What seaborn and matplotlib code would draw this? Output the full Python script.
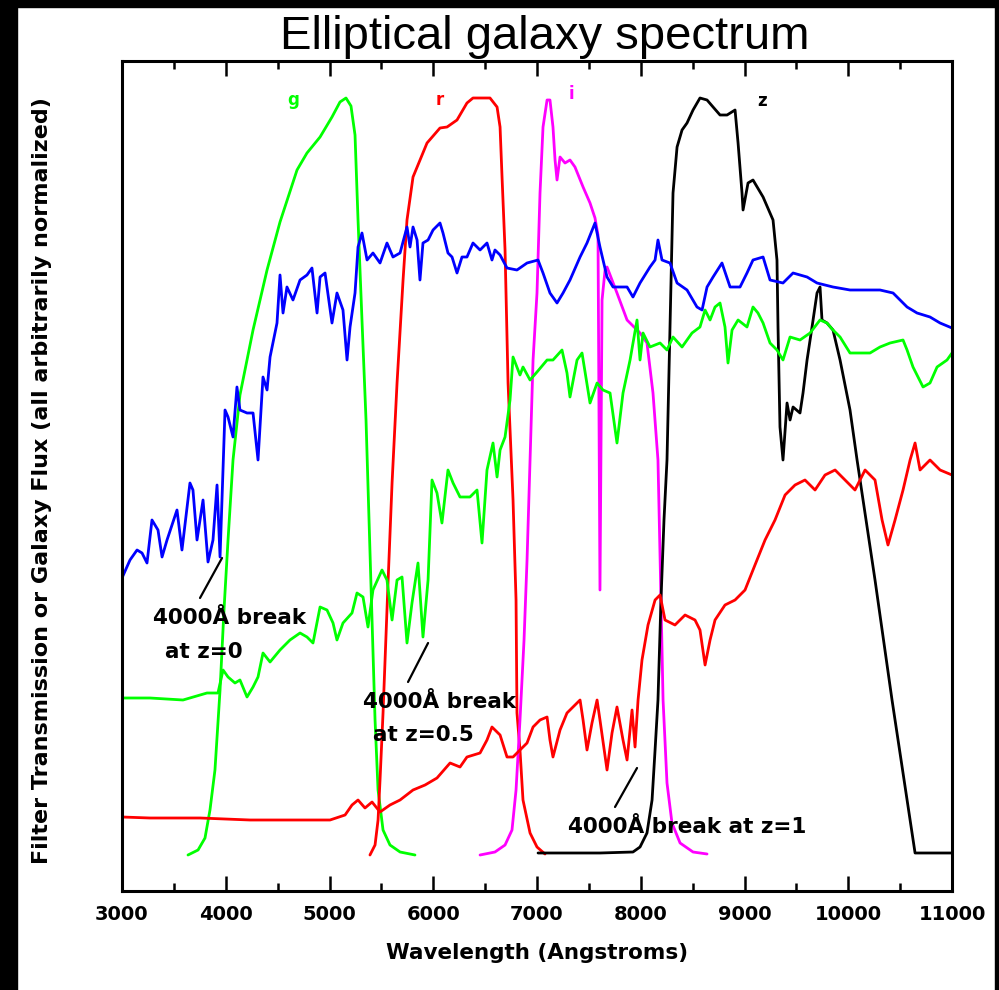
import matplotlib
matplotlib.use("Agg")
import matplotlib.pyplot as plt
import seaborn as sns
import pandas as pd
from matplotlib.ticker import MultipleLocator
from matplotlib.patches import Rectangle

# ---- SDSS filter transmission curves (wavelength in Angstroms, arbitrary scale) ----
G_FILTER_WAVE = [3636, 3733, 3800, 3848, 3896, 3945, 3983, 4022, 4070, 4137, 4263, 4398, 4523, 4687, 4783,
                 4909, 5024, 5101, 5159, 5207, 5246, 5275, 5313, 5352, 5381, 5410, 5439, 5468, 5516, 5583,
                 5680, 5824]
G_FILTER_TRANS = [0.36, 0.41, 0.53, 0.81, 1.21, 2.01, 2.81, 3.51, 4.31, 4.96, 5.61, 6.21, 6.69, 7.21, 7.38,
                  7.54, 7.74, 7.89, 7.93, 7.85, 7.56, 6.71, 5.71, 4.71, 3.71, 2.71, 1.71, 1.01, 0.61, 0.46,
                  0.39, 0.36]

R_FILTER_WAVE = [5390, 5439, 5468, 5487, 5516, 5564, 5603, 5651, 5709, 5747, 5805, 5940, 6065, 6133, 6229,
                 6325, 6383, 6547, 6615, 6644, 6663, 6692, 6721, 6769, 6798, 6807, 6836, 6865, 6933, 7000,
                 7077]
R_FILTER_TRANS = [0.36, 0.46, 0.71, 1.11, 1.78, 3.08, 4.08, 5.08, 6.11, 6.71, 7.14, 7.48, 7.63, 7.64, 7.71,
                  7.88, 7.93, 7.93, 7.84, 7.64, 7.14, 6.41, 5.08, 3.91, 2.91, 1.78, 1.41, 0.91, 0.58, 0.44,
                  0.37]

I_FILTER_WAVE = [6451, 6595, 6692, 6759, 6798, 6836, 6875, 6904, 6933, 6962, 7000, 7029, 7058, 7097, 7125,
                 7154, 7174, 7193, 7222, 7270, 7318, 7366, 7444, 7511, 7559, 7588, 7607, 7627, 7656, 7675,
                 7771, 7868, 7993, 8060, 8118, 8166, 8195, 8215, 8253, 8301, 8379, 8504, 8639]
I_FILTER_TRANS = [0.36, 0.39, 0.46, 0.61, 1.01, 1.71, 2.51, 3.31, 4.31, 5.31, 5.98, 6.98, 7.64, 7.91, 7.91,
                  7.64, 7.31, 7.11, 7.34, 7.28, 7.31, 7.24, 7.04, 6.88, 6.73, 6.56, 3.01, 5.91, 6.21, 6.24,
                  5.98, 5.71, 5.58, 5.48, 4.98, 4.31, 2.91, 1.91, 1.08, 0.68, 0.48, 0.39, 0.37]

Z_FILTER_WAVE = [7010, 7607, 7925, 7993, 8060, 8109, 8138, 8166, 8195, 8224, 8253, 8282, 8311, 8350, 8398,
                 8446, 8504, 8571, 8639, 8697, 8764, 8832, 8909, 8938, 8976, 8986, 9034, 9082, 9179, 9275,
                 9313, 9323, 9342, 9371, 9410, 9439, 9468, 9535, 9564, 9603, 9651, 9699, 9728, 9747, 9795,
                 9853, 9921, 10017, 10085, 10258, 10422, 10644, 11000]
Z_FILTER_TRANS = [0.38, 0.38, 0.39, 0.44, 0.58, 0.91, 1.41, 1.91, 2.91, 3.71, 4.31, 5.64, 6.98, 7.44, 7.61,
                  7.68, 7.81, 7.93, 7.91, 7.84, 7.76, 7.76, 7.81, 7.48, 6.98, 6.81, 7.08, 7.11, 6.94, 6.71,
                  6.31, 5.64, 4.64, 4.31, 4.88, 4.71, 4.84, 4.78, 4.98, 5.31, 5.64, 5.98, 6.04, 5.71, 5.68,
                  5.61, 5.31, 4.81, 4.31, 3.11, 1.91, 0.38, 0.38]

# ---- Elliptical galaxy spectrum at z = 0 ----
Z0_WAVE = [3000, 3077, 3145, 3193, 3241, 3289, 3347, 3386, 3434, 3530,
           3578, 3655, 3684, 3723, 3781, 3829, 3877, 3916, 3945, 3993,
           4022, 4070, 4108, 4137, 4205, 4263, 4311, 4359, 4398, 4427,
           4494, 4523, 4552, 4590, 4648, 4716, 4783, 4831, 4880, 4909,
           4957, 5024, 5072, 5130, 5169, 5198, 5246, 5275, 5313, 5362,
           5419, 5487, 5554, 5612, 5680, 5747, 5776, 5805, 5844, 5872,
           5901, 5950, 5998, 6065, 6094, 6142, 6181, 6229, 6277, 6325,
           6383, 6451, 6518, 6566, 6595, 6644, 6711, 6807, 6904, 7010,
           7058, 7125, 7193, 7251, 7318, 7415, 7482, 7559, 7607, 7675,
           7733, 7868, 7925, 7993, 8089, 8138, 8166, 8205, 8282, 8350,
           8446, 8542, 8591, 8639, 8697, 8783, 8861, 8957, 9024, 9082,
           9179, 9246, 9371, 9468, 9603, 9699, 9853, 10017, 10181, 10306,
           10432, 10567, 10663, 10788, 10885, 11000]
Z0_FLUX = [3.13, 3.31, 3.41, 3.38, 3.28, 3.71, 3.61, 3.34, 3.51, 3.81,
           3.41, 4.08, 4.01, 3.51, 3.91, 3.29, 3.51, 4.06, 3.34, 4.81,
           4.74, 4.54, 5.04, 4.81, 4.78, 4.78, 4.31, 5.14, 5.01, 5.34,
           5.68, 6.16, 5.78, 6.04, 5.91, 6.11, 6.16, 6.23, 5.78, 6.14,
           6.18, 5.68, 5.98, 5.81, 5.31, 5.64, 5.98, 6.44, 6.58, 6.31,
           6.38, 6.28, 6.48, 6.34, 6.38, 6.64, 6.44, 6.64, 6.51, 6.11,
           6.48, 6.51, 6.61, 6.68, 6.58, 6.38, 6.34, 6.18, 6.34, 6.34,
           6.48, 6.41, 6.48, 6.31, 6.41, 6.36, 6.23, 6.21, 6.28, 6.31,
           6.18, 5.98, 5.88, 5.98, 6.11, 6.34, 6.48, 6.68, 6.44, 6.14,
           6.04, 6.04, 5.94, 6.08, 6.24, 6.31, 6.51, 6.31, 6.28, 6.08,
           6.01, 5.84, 5.81, 6.04, 6.14, 6.28, 6.04, 6.04, 6.18, 6.31,
           6.34, 6.11, 6.08, 6.18, 6.14, 6.08, 6.04, 6.01, 6.01, 6.01,
           5.98, 5.84, 5.78, 5.74, 5.68, 5.63]

# ---- Same galaxy observed at z = 0.5 ----
Z05_WAVE = [3000, 3270, 3588, 3819, 3925, 3974, 4022, 4089, 4137, 4205,
            4263, 4311, 4359, 4427, 4523, 4619, 4716, 4783, 4841, 4909,
            4976, 5034, 5072, 5130, 5217, 5265, 5323, 5371, 5419, 5506,
            5554, 5603, 5651, 5699, 5747, 5795, 5853, 5901, 5950, 5988,
            6036, 6084, 6142, 6191, 6258, 6354, 6422, 6470, 6518, 6576,
            6615, 6644, 6692, 6740, 6769, 6836, 6865, 6933, 7000, 7097,
            7154, 7241, 7289, 7318, 7386, 7434, 7511, 7579, 7636, 7704,
            7771, 7829, 7897, 7964, 7993, 8022, 8089, 8186, 8253, 8311,
            8398, 8494, 8571, 8620, 8668, 8716, 8764, 8812, 8841, 8880,
            8938, 9024, 9082, 9130, 9179, 9246, 9313, 9371, 9439, 9535,
            9632, 9728, 9795, 9853, 9921, 10017, 10114, 10210, 10306, 10403,
            10528, 10567, 10624, 10721, 10788, 10856, 10952, 11000]
Z05_FLUX = [1.93, 1.93, 1.91, 1.98, 1.98, 2.21, 2.14, 2.08, 2.11, 1.94,
            2.04, 2.14, 2.38, 2.29, 2.41, 2.51, 2.58, 2.54, 2.48, 2.84,
            2.81, 2.68, 2.51, 2.68, 2.78, 2.98, 2.94, 2.64, 3.01, 3.21,
            3.11, 2.71, 3.11, 3.14, 2.48, 2.88, 3.28, 2.54, 3.11, 4.11,
            3.98, 3.68, 4.21, 4.08, 3.94, 3.94, 4.01, 3.48, 4.21, 4.48,
            4.14, 4.41, 4.54, 4.91, 5.34, 5.16, 5.24, 5.11, 5.19, 5.31,
            5.31, 5.41, 5.18, 4.94, 5.31, 5.38, 4.88, 5.08, 5.01, 4.98,
            4.48, 4.98, 5.31, 5.71, 5.31, 5.58, 5.44, 5.48, 5.41, 5.54,
            5.44, 5.58, 5.64, 5.81, 5.71, 5.84, 5.88, 5.64, 5.28, 5.61,
            5.71, 5.64, 5.84, 5.78, 5.68, 5.48, 5.41, 5.31, 5.54, 5.51,
            5.58, 5.71, 5.68, 5.61, 5.54, 5.38, 5.38, 5.38, 5.44, 5.48,
            5.51, 5.41, 5.24, 5.04, 5.08, 5.24, 5.31, 5.38]

# ---- Same galaxy observed at z = 1 ----
Z1_WAVE = [3000, 3270, 3752, 4234, 4716, 5005, 5150, 5217, 5275, 5342,
           5410, 5487, 5583, 5680, 5805, 5921, 6036, 6162, 6258, 6325,
           6451, 6518, 6566, 6644, 6711, 6769, 6836, 6904, 6962, 7029,
           7097, 7125, 7154, 7222, 7289, 7347, 7415, 7444, 7482, 7530,
           7579, 7607, 7675, 7723, 7771, 7829, 7868, 7916, 7945, 7974,
           8012, 8070, 8138, 8186, 8234, 8330, 8427, 8523, 8571, 8620,
           8668, 8716, 8812, 8909, 9005, 9101, 9198, 9294, 9391, 9487,
           9583, 9680, 9776, 9873, 9969, 10065, 10162, 10258, 10326, 10383,
           10451, 10528, 10596, 10644, 10692, 10788, 10885, 11000]
Z1_FLUX = [0.74, 0.73, 0.73, 0.71, 0.71, 0.71, 0.76, 0.86, 0.91, 0.83,
           0.89, 0.79, 0.86, 0.91, 1.01, 1.06, 1.13, 1.28, 1.24, 1.34,
           1.38, 1.51, 1.64, 1.56, 1.34, 1.34, 1.41, 1.48, 1.64, 1.71,
           1.74, 1.51, 1.34, 1.61, 1.78, 1.84, 1.91, 1.71, 1.41, 1.68,
           1.91, 1.71, 1.21, 1.58, 1.84, 1.51, 1.31, 1.81, 1.44, 1.91,
           2.31, 2.66, 2.91, 2.96, 2.71, 2.66, 2.76, 2.71, 2.61, 2.26,
           2.51, 2.71, 2.86, 2.91, 3.01, 3.26, 3.51, 3.71, 3.96, 4.06,
           4.11, 4.01, 4.16, 4.21, 4.11, 4.01, 4.21, 4.11, 3.71, 3.46,
           3.71, 4.01, 4.31, 4.48, 4.21, 4.31, 4.21, 4.16]

FILTER_NAMES = ["g", "r", "i", "z"]
X_TICKS = [3000, 4000, 5000, 6000, 7000, 8000, 9000, 10000, 11000]

sns.set_style("white")
plt.rcParams["font.family"] = ["DejaVu Sans"]
plt.rcParams.update({"text.color": "black", "axes.labelcolor": "black",
                     "xtick.color": "black", "ytick.color": "black"})

fig = plt.figure(figsize=(9.99, 9.90), dpi=100)
ax = fig.add_axes([122 / 999, 99 / 990, 830 / 999, 830 / 990])

curves = [
    (G_FILTER_WAVE, G_FILTER_TRANS, "#00ff00"),
    (R_FILTER_WAVE, R_FILTER_TRANS, "#ff0000"),
    (I_FILTER_WAVE, I_FILTER_TRANS, "#ff00ff"),
    (Z_FILTER_WAVE, Z_FILTER_TRANS, "#000000"),
    (Z05_WAVE, Z05_FLUX, "#00ff00"),
    (Z1_WAVE, Z1_FLUX, "#ff0000"),
    (Z0_WAVE, Z0_FLUX, "#0000ff"),
]
for wave, flux, color in curves:
    df = pd.DataFrame({"wave": wave, "flux": flux})
    sns.lineplot(data=df, x="wave", y="flux", color=color, linewidth=2.0,
                 estimator=None, sort=False, ax=ax)

ax.set_xlim(3000, 11000)
ax.set_ylim(0, 8.3)
ax.set_xticks(X_TICKS)
ax.set_xticklabels([str(t) for t in X_TICKS])
ax.xaxis.set_minor_locator(MultipleLocator(500))
ax.set_yticks([])
ax.tick_params(axis="x", which="both", direction="in", top=True, bottom=True,
               width=1.8, color="black")
ax.tick_params(axis="x", which="major", length=10.5, pad=10, labelsize=14)
ax.tick_params(axis="x", which="minor", length=6)
for lab in ax.get_xticklabels():
    lab.set_fontweight("bold")
for side in ax.spines.values():
    side.set_visible(True)
    side.set_linewidth(2.2)
    side.set_color("black")

ax.set_xlabel("Wavelength (Angstroms)", fontsize=15.5, fontweight="bold",
              va="center")
ax.xaxis.set_label_coords(0.5, -0.0747)
ax.set_ylabel("Filter Transmission or Galaxy Flux (all arbitrarily normalized)",
              fontsize=16, fontweight="bold", ha="center", va="center")
ax.yaxis.set_label_coords(-0.0964, 0.494)

# filter names above each band
label_pos = [(4648, 7.91, "#00ff00"), (6065, 7.91, "#ff0000"),
             (7328, 7.97, "#ff00ff"), (9169, 7.90, "#000000")]
for name, (lx, ly, c) in zip(FILTER_NAMES, label_pos):
    ax.text(lx, ly, name, color=c, fontsize=12, fontweight="bold",
            ha="center", va="center")

# 4000 Angstrom break annotations
note = dict(fontsize=15.5, fontweight="bold", ha="left", va="center")
ax.plot([3752, 3964], [2.93, 3.33], color="black", lw=1.6)
ax.text(3299, 2.73, "4000Å break", **note)
ax.text(3414, 2.39, "at z=0", **note)

ax.plot([5757, 5950], [2.09, 2.48], color="black", lw=1.6)
ax.text(5323, 1.89, "4000Å break", **note)
ax.text(5419, 1.56, "at z=0.5", **note)

ax.plot([7752, 7964], [0.84, 1.23], color="black", lw=1.6)
ax.text(7299, 0.64, "4000Å break at z=1", **note)

fig.text(545 / 999, 1 - 37 / 990, "Elliptical galaxy spectrum",
         fontsize=34, family="Liberation Sans", ha="center", va="center")

# dark frame along the image edges
fig.add_artist(Rectangle((0, 0), 17 / 999, 1, transform=fig.transFigure,
                         color="black", zorder=10))
fig.add_artist(Rectangle((0, 1 - 7 / 990), 1, 7 / 990, transform=fig.transFigure,
                         color="black", zorder=10))
fig.add_artist(Rectangle((1 - 4 / 999, 0), 4 / 999, 1, transform=fig.transFigure,
                         color="black", zorder=10))

fig.savefig("out.png", dpi=100)
